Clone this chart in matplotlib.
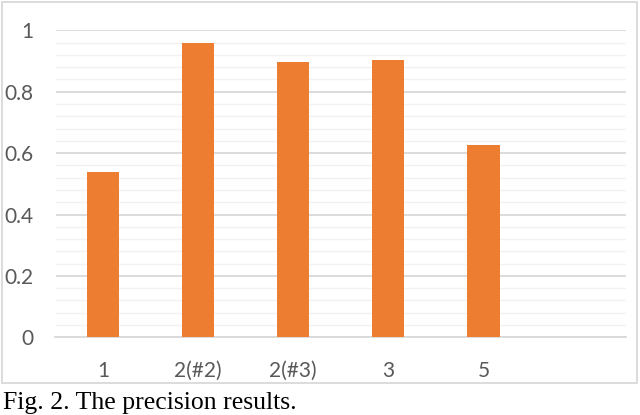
import matplotlib.pyplot as plt
import matplotlib.patches as patches
from matplotlib.ticker import MultipleLocator

categorias = ["1", "2(#2)", "2(#3)", "3", "5", ""]
precision = [0.54, 0.958, 0.896, 0.903, 0.626]
marcas_y = [0, 0.2, 0.4, 0.6, 0.8, 1]
etiquetas_y = ["0", "0.2", "0.4", "0.6", "0.8", "1"]

fig = plt.figure(figsize=(6.4, 4.15), dpi=100)
ax = fig.add_axes([55.5 / 640, 1 - 337.3 / 415, (626 - 55.5) / 640, (337.3 - 30.3) / 415])

posiciones = list(range(len(categorias)))
ax.bar(posiciones[:len(precision)], precision, width=0.34, color="#ED7D31", zorder=3)

ax.set_xlim(-0.5, len(categorias) - 0.5)
ax.set_ylim(0, 1)
ax.set_xticks(posiciones)
ax.set_xticklabels(categorias)
ax.set_yticks(marcas_y)
ax.set_yticklabels(etiquetas_y)
ax.yaxis.set_minor_locator(MultipleLocator(0.04))

ax.grid(axis="y", which="major", color="#D9D9D9", linewidth=1.3, zorder=0)
ax.grid(axis="y", which="minor", color="#F2F2F2", linewidth=1.0, zorder=0)
for s in ["top", "right", "left"]:
    ax.spines[s].set_visible(False)
ax.spines["bottom"].set_color("#D9D9D9")
ax.spines["bottom"].set_linewidth(1.3)

ax.tick_params(axis="both", which="both", length=0, colors="#595959", labelsize=15)
ax.tick_params(axis="y", pad=16)
ax.tick_params(axis="x", pad=17)
for lab in ax.get_xticklabels() + ax.get_yticklabels():
    lab.set_fontfamily("Lato")

# marco del grafico
fig.patches.append(patches.Rectangle((2 / 640, 1 - 383 / 415), 635 / 640, 381 / 415,
                                     transform=fig.transFigure, fill=False,
                                     edgecolor="#D9D9D9", linewidth=1.3))

fig.text(3 / 640, 1 - 408.5 / 415, "Fig. 2. The precision results.",
         fontfamily="Liberation Serif", fontsize=18.5, color="black", va="baseline")

fig.savefig("out.png", dpi=100)
